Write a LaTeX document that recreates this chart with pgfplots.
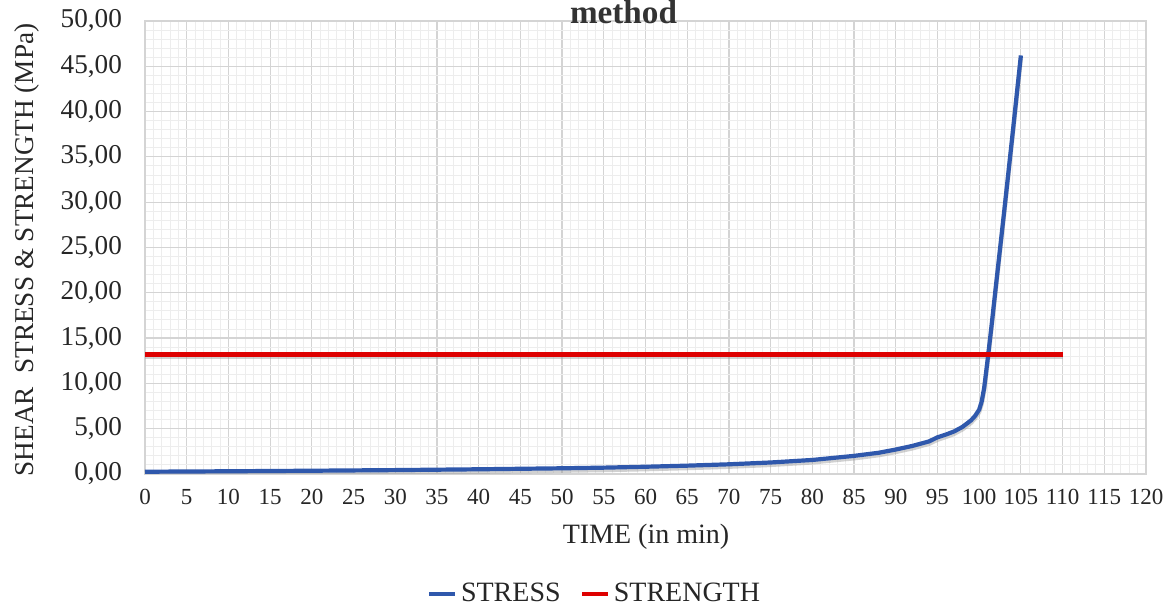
\documentclass[border=0pt]{standalone}
\usepackage{fontspec}
\setmainfont{Liberation Serif}
\usepackage{pgfplots}
\pgfplotsset{compat=1.18}
\definecolor{stressblue}{RGB}{47,88,172}
\definecolor{strengthred}{RGB}{222,0,0}
\begin{document}
\begin{tikzpicture}
\useasboundingbox (0,0) rectangle (586pt,304pt);
\begin{axis}[
  at={(72.5pt,67pt)}, anchor=south west,
  scale only axis, width=500.5pt, height=226.5pt,
  xmin=0, xmax=120, ymin=0, ymax=50,
  xtick={0,5,...,120}, ytick={0,5,...,50},
  minor x tick num=4, minor y tick num=4,
  grid=both,
  major grid style={draw=black!17, line width=0.6pt},
  minor grid style={draw=black!7, line width=0.5pt},
  axis line style={draw=black!17, line width=0.6pt},
  major tick length=0pt, minor tick length=0pt,
  tick style={draw=none},
  /pgf/number format/assume math mode=true,
  xticklabel style={font=\fontsize{11.5}{11.5}\selectfont, text=black!85, anchor=north, yshift=-4pt},
  yticklabel style={font=\fontsize{13.6}{13.6}\selectfont, text=black!85, anchor=east, xshift=-8pt,
    /pgf/number format/.cd, fixed, fixed zerofill, precision=2, use comma},
  legend style={at={(0.4505,-0.265)}, anchor=center, draw=none, fill=none,
    font=\fontsize{14}{14}\selectfont, text=black!85, legend columns=-1,
    /tikz/every even column/.append style={column sep=8pt},
    inner sep=0pt, outer sep=0pt},
  legend image code/.code={\draw[#1, line width=1.6pt] (0pt,0pt) -- (13pt,0pt);},
  legend cell align=left,
]
% shadows
\addplot[black!40, opacity=0.45, line width=2.2pt, line join=round, forget plot, yshift=-1.2pt] coordinates {
(0,0.25) (10,0.30) (20,0.36) (30,0.43) (40,0.52) (50,0.63) (55,0.70) (60,0.80) (65,0.92) (70,1.07) (75,1.27) (80,1.55) (85,2.00) (88,2.35) (90,2.70) (92,3.10) (94,3.60) (95,4.05) (96,4.35) (97,4.70) (98,5.20) (99,5.90) (99.5,6.40) (100,7.10) (100.3,8.00) (100.6,9.50) (101,12.5) (101.5,16.5) (102,20.7) (103,29.0) (104,37.5) (105,46.2)};
\addplot[black!40, opacity=0.45, line width=2.2pt, forget plot, yshift=-1.2pt] coordinates {(0,13.2) (110,13.2)};
\addplot[stressblue, line width=2.1pt, line join=round] coordinates {
(0,0.25) (10,0.30) (20,0.36) (30,0.43) (40,0.52) (50,0.63) (55,0.70) (60,0.80) (65,0.92) (70,1.07) (75,1.27) (80,1.55) (85,2.00) (88,2.35) (90,2.70) (92,3.10) (94,3.60) (95,4.05) (96,4.35) (97,4.70) (98,5.20) (99,5.90) (99.5,6.40) (100,7.10) (100.3,8.00) (100.6,9.50) (101,12.5) (101.5,16.5) (102,20.7) (103,29.0) (104,37.5) (105,46.2)};
\addlegendentry{STRESS}
\addplot[strengthred, line width=2.1pt] coordinates {(0,13.2) (110,13.2)};
\addlegendentry{STRENGTH}
\end{axis}
\node[font=\bfseries\fontsize{16.6}{16.6}\selectfont, text=black!80, anchor=base] at (311.75pt,292.3pt) {method};
\node[font=\fontsize{14}{14}\selectfont, text=black!85, anchor=center] at (323pt,35.5pt) {TIME (in min)};
\node[font=\fontsize{13.6}{13.6}\selectfont, text=black!85, anchor=center, rotate=90] at (13.5pt,179pt) {SHEAR\ \ STRESS \& STRENGTH (MPa)};
\end{tikzpicture}
\end{document}
